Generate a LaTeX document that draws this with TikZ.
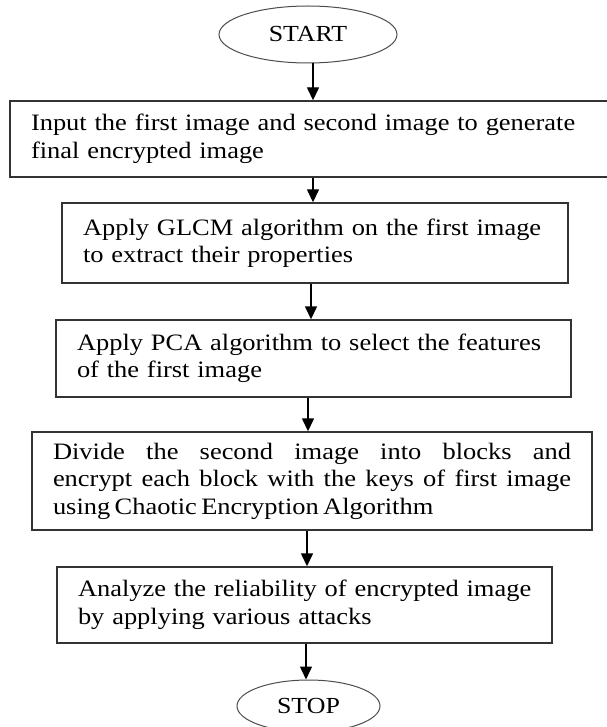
\documentclass[tikz,border=0pt]{standalone}
\usepackage{fontspec}
\setmainfont{Liberation Serif}[FakeStretch=1.125]
\usetikzlibrary{arrows.meta,shapes.geometric}
\newcommand{\boxfont}{\fontsize{23.5pt}{27.5pt}\selectfont\spaceskip=4.4pt plus 2pt minus 1pt\hyphenpenalty=10000 }
\begin{document}
\begin{tikzpicture}[x=1pt,y=-1pt,
  every node/.style={font=\boxfont},
  stepbox/.style={draw=black!80, line width=1.4pt, inner xsep=21pt, inner ysep=0pt, align=left},
  term/.style={ellipse, draw=black!70, line width=1pt, inner sep=0pt,
    font=\fontsize{23pt}{26pt}\selectfont},
  arr/.style={line width=1.4pt, -{Triangle[length=13pt,width=12pt]}}]
\useasboundingbox (0,0) rectangle (606,727);

% terminals
\node[term, minimum width=178pt, minimum height=57pt] (start) at (308,34.5) {START};
\node[term, minimum width=143pt, minimum height=52pt] (stop) at (308.5,706) {STOP};

% process steps
\node[stepbox, minimum height=76pt, text width=556pt] (b1) at (309,139)
  {\mbox{Input the first image and second image to generate}\\\mbox{final encrypted image}};
\node[stepbox, minimum height=80pt, text width=464pt] (b2) at (315,243)
  {\mbox{Apply GLCM algorithm on the first image}\\\mbox{to extract their properties}};
\node[stepbox, minimum height=77pt, text width=473pt] (b3) at (313.5,358.5)
  {\mbox{Apply PCA algorithm to select the features}\\\mbox{of the first image}};
\node[stepbox, minimum height=98pt, text width=518pt, align=justify] (b4) at (312,481)
  {Divide the second image into blocks and\linebreak encrypt each block with the keys of first image\linebreak using Chaotic Encryption Algorithm};
\node[stepbox, minimum height=76pt, text width=453pt] (b5) at (304.5,605)
  {\mbox{Analyze the reliability of encrypted image}\\\mbox{by applying various attacks}};

% connectors
\draw[arr] ([xshift=5pt]start.south) -- ([xshift=5pt]start.south |- b1.north);
\draw[arr] ([xshift=4pt]b1.south) -- ([xshift=4pt]b1.south |- b2.north);
\draw[arr] ([xshift=-4pt]b2.south) -- ([xshift=-4pt]b2.south |- b3.north);
\draw[arr] ([xshift=-5.5pt]b3.south) -- ([xshift=-5.5pt]b3.south |- b4.north);
\draw[arr] ([xshift=-5pt]b4.south) -- ([xshift=-5pt]b4.south |- b5.north);
\draw[arr] ([xshift=1.5pt]b5.south) -- ([xshift=1.5pt]b5.south |- stop.north);
\end{tikzpicture}
\end{document}
